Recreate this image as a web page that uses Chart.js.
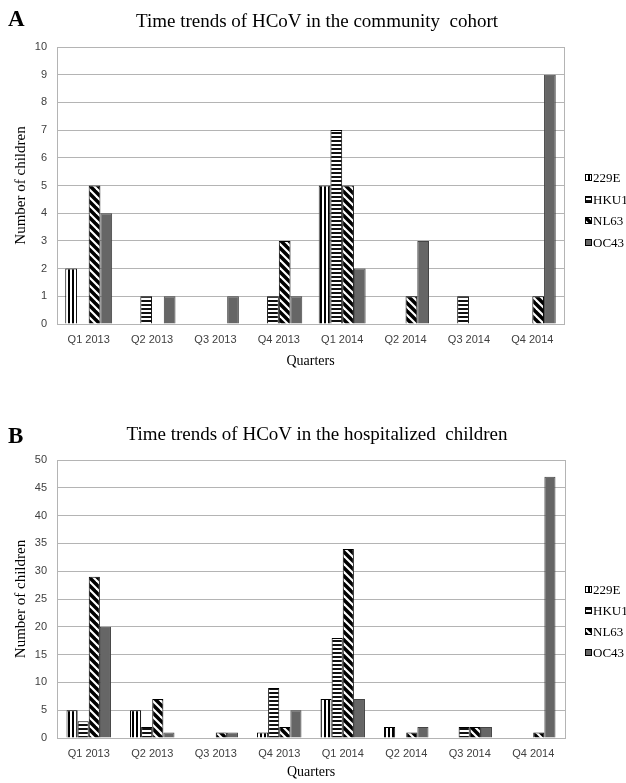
<!DOCTYPE html>
<html>
<head>
<meta charset="utf-8">
<script src="https://cdn.jsdelivr.net/npm/chart.js@4.4.1/dist/chart.umd.min.js"></script>
<style>
    body { margin: 0; background: #fff; width: 626px; height: 783px; position: relative; overflow: hidden; font-family: "Liberation Serif", serif; }
    canvas { position: absolute; left: 0; }
    .letter { position: absolute; left: 8px; font-weight: bold; font-size: 23px; line-height: 1; }
    .title { position: absolute; left: 0; width: 634px; text-align: center; font-size: 19px; line-height: 1; }
</style>
</head>
<body>
<canvas id="chartA" width="626" height="390" style="top:0"></canvas>
<canvas id="chartB" width="626" height="383" style="top:400px"></canvas>
<div class="letter" style="top:7px">A</div>
<div class="title" style="top:11px">Time trends of HCoV in the community&nbsp; cohort</div>
<div class="letter" style="top:424px">B</div>
<div class="title" style="top:424px">Time trends of HCoV in the hospitalized&nbsp; children</div>
<script>
// --- data ---
const quarters = ['Q1 2013', 'Q2 2013', 'Q3 2013', 'Q4 2013', 'Q1 2014', 'Q2 2014', 'Q3 2014', 'Q4 2014'];
const seriesNames = ['229E', 'HKU1', 'NL63', 'OC43'];

// community cohort
const community229E = [2, 0, 0, 0, 5, 0, 0, 0];
const communityHKU1 = [0, 1, 0, 1, 7, 0, 1, 0];
const communityNL63 = [5, 0, 0, 3, 5, 1, 0, 1];
const communityOC43 = [4, 1, 1, 1, 2, 3, 0, 9];

// hospitalized children
const hospital229E = [5, 5, 0, 1, 7, 2, 0, 0];
const hospitalHKU1 = [3, 2, 0, 9, 18, 0, 2, 0];
const hospitalNL63 = [29, 7, 1, 2, 34, 1, 2, 1];
const hospitalOC43 = [20, 1, 1, 5, 7, 2, 2, 47];

const GRID = '#b4b4b4';

// hatch fills like the Excel pattern fills
function makePattern(kind) {
    const c = document.createElement('canvas');
    const p = c.getContext('2d');
    if (kind === 'vertical') {
        c.width = 4; c.height = 4;
        p.fillStyle = '#fff'; p.fillRect(0, 0, 4, 4);
        p.fillStyle = '#000'; p.fillRect(0, 0, 2, 4);
    } else if (kind === 'horizontal') {
        c.width = 4; c.height = 4;
        p.fillStyle = '#fff'; p.fillRect(0, 0, 4, 4);
        p.fillStyle = '#111'; p.fillRect(0, 0, 4, 2);
    } else {
        c.width = 8; c.height = 8;
        p.fillStyle = '#fff'; p.fillRect(0, 0, 8, 8);
        p.strokeStyle = '#000'; p.lineWidth = 3.5;
        for (const k of [-8, 0, 8]) {
            p.beginPath();
            p.moveTo(k - 2, -2);
            p.lineTo(k + 10, 10);
            p.stroke();
        }
    }
    return c.getContext('2d').createPattern(c, 'repeat');
}

const fills = [makePattern('vertical'), makePattern('horizontal'), makePattern('diagonal'), '#666666'];
const borders = ['#000', '#000', '#000', '#444'];

// box around the plot area (right edge is not drawn by the scales)
const plotBox = {
    id: 'plotBox',
    beforeDatasetsDraw(chart) {
        const { ctx, chartArea: a } = chart;
        ctx.save();
        ctx.strokeStyle = GRID;
        ctx.lineWidth = 1;
        ctx.strokeRect(Math.round(a.left) + 0.5, Math.round(a.top) + 0.5, Math.round(a.right - a.left), Math.round(a.bottom - a.top));
        ctx.restore();
    }
};

// legend to the right, placed like the original figure
const sideLegend = {
    id: 'sideLegend',
    afterDraw(chart, args, opts) {
        const ctx = chart.ctx;
        ctx.save();
        ctx.font = '13px "Liberation Serif"';
        ctx.textBaseline = 'middle';
        chart.data.datasets.forEach((ds, i) => {
            const y = Math.round(opts.top + i * opts.step);
            ctx.fillStyle = ds.backgroundColor;
            ctx.fillRect(opts.x, y - 4, 7, 7);
            ctx.strokeStyle = '#000';
            ctx.lineWidth = 1;
            ctx.strokeRect(opts.x + 0.5, y - 3.5, 6, 6);
            ctx.fillStyle = '#000';
            ctx.fillText(ds.label, opts.x + 8, y + 1);
        });
        ctx.restore();
    }
};

function buildChart(id, values, yMax, yStep, cfg) {
    const ctx = document.getElementById(id).getContext('2d');
    return new Chart(ctx, {
        type: 'bar',
        data: {
            labels: quarters,
            datasets: values.map((v, i) => ({
                label: seriesNames[i],
                data: v,
                backgroundColor: fills[i],
                borderColor: borders[i],
                borderWidth: 1,
                categoryPercentage: cfg.catPct,
                barPercentage: 1.0
            }))
        },
        plugins: [plotBox, sideLegend],
        options: {
            responsive: false,
            animation: false,
            layout: { padding: { top: cfg.top, left: 6, right: cfg.right, bottom: cfg.bottom } },
            plugins: {
                legend: { display: false },
                tooltip: { enabled: false },
                sideLegend: { x: 585, top: cfg.legendTop, step: cfg.legendStep }
            },
            scales: {
                x: {
                    grid: { display: false, drawTicks: false },
                    border: { color: GRID },
                    ticks: { color: '#404040', padding: 9, font: { family: 'Liberation Sans', size: 11 } },
                    title: { display: true, text: 'Quarters', color: '#000', padding: { top: 0, bottom: cfg.xTitlePad }, font: { family: 'Liberation Serif', size: 14 } },
                    afterFit: (scale) => { scale.height = cfg.xHeight; }
                },
                y: {
                    min: 0, max: yMax,
                    grid: { color: GRID, drawTicks: false },
                    border: { color: GRID },
                    ticks: { stepSize: yStep, color: '#404040', padding: 10, font: { family: 'Liberation Sans', size: 11 } },
                    title: { display: true, text: 'Number of children', color: '#000', padding: { top: 6, bottom: 0 }, font: { family: 'Liberation Serif', size: 15 } },
                    afterFit: (scale) => { scale.width = 51; }
                }
            }
        }
    });
}

buildChart('chartA', [community229E, communityHKU1, communityNL63, communityOC43], 10, 1, {
    top: 47, right: 62, bottom: 16, xHeight: 50, xTitlePad: 4, catPct: 0.74,
    legendTop: 178, legendStep: 21.5
});

buildChart('chartB', [hospital229E, hospitalHKU1, hospitalNL63, hospitalOC43], 50, 5, {
    top: 60, right: 61, bottom: 1, xHeight: 44, xTitlePad: 1, catPct: 0.70,
    legendTop: 190, legendStep: 21
});
</script>
</body>
</html>
